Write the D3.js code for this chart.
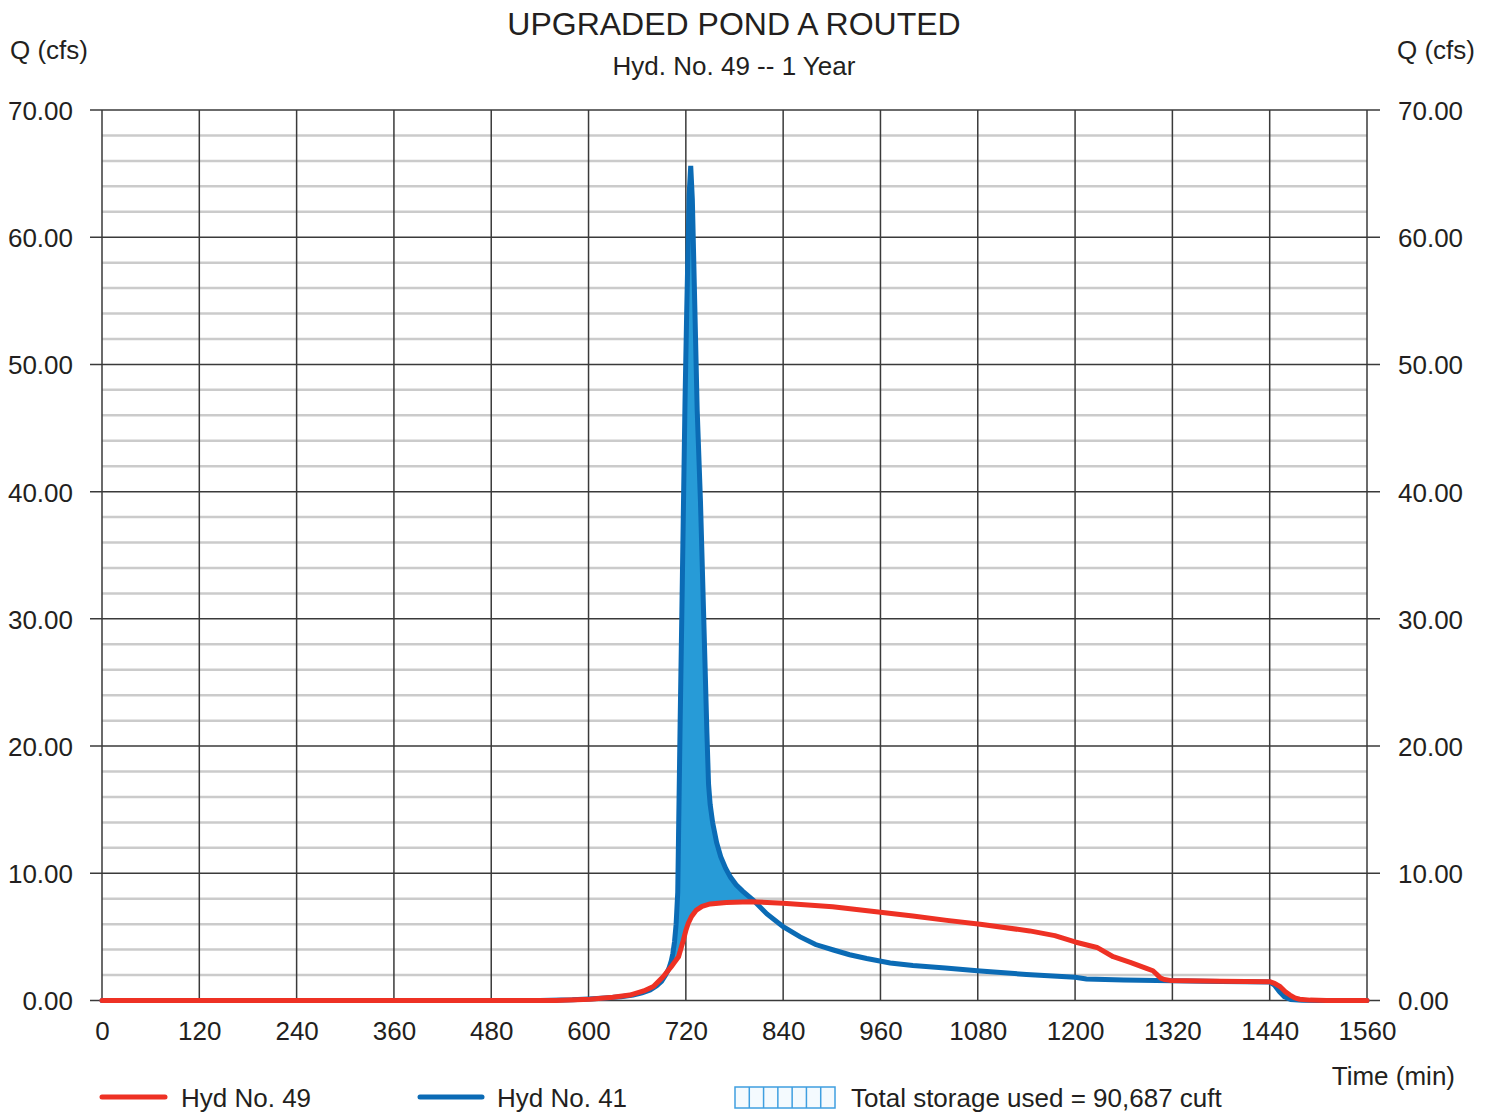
<!DOCTYPE html>
<html>
<head>
<meta charset="utf-8">
<script src="https://cdn.jsdelivr.net/npm/d3@7"></script>
<style>
  html, body { margin: 0; padding: 0; background: #fff; }
  svg { display: block; font-family: "Liberation Sans", Arial, sans-serif; }
</style>
</head>
<body>
<svg id="chart" width="1494" height="1112"></svg>
<script>
// Routed hydrograph: inflow (Hyd No. 41) and pond outflow (Hyd No. 49)
const titleText = "UPGRADED POND A ROUTED";
const subtitleText = "Hyd. No. 49 -- 1 Year";

const timeTicks = [0, 120, 240, 360, 480, 600, 720, 840, 960, 1080, 1200, 1320, 1440, 1560];
const flowTicks = [0, 10, 20, 30, 40, 50, 60, 70];

// Hyd No. 41 (inflow), time in minutes and Q in cfs
const inflowTime = [0, 540, 580, 600, 620, 640, 655, 666, 676, 684, 690, 695, 699, 702, 704, 706, 708, 710, 711, 713, 715, 717, 719, 721, 723, 724, 726, 728, 731, 734, 738, 742, 746, 748, 750, 753, 758, 763, 769, 775, 782, 790, 803, 820, 840, 861, 880, 902, 922, 943, 972, 1000, 1040, 1083, 1140, 1200, 1214, 1260, 1320, 1380, 1440, 1446, 1452, 1458, 1466, 1480, 1500, 1560];
const inflowQ    = [0, 0, 0.05, 0.12, 0.2, 0.3, 0.43, 0.6, 0.83, 1.15, 1.5, 2.0, 2.5, 3.1, 3.7, 4.6, 6.0, 8.5, 13.0, 22.0, 30.2, 38.7, 47.2, 54.0, 60.0, 63.3, 65.6, 63.0, 54.7, 46.4, 39.3, 30.2, 21.0, 17.0, 15.4, 14.0, 12.4, 11.3, 10.4, 9.7, 9.1, 8.6, 7.9, 6.8, 5.8, 5.0, 4.4, 3.97, 3.6, 3.3, 2.95, 2.75, 2.55, 2.32, 2.05, 1.82, 1.69, 1.62, 1.55, 1.5, 1.45, 1.2, 0.7, 0.3, 0.08, 0.02, 0, 0];

// Hyd No. 49 (routed outflow)
const outflowTime = [0, 560, 602, 630, 651, 668, 680, 692, 702, 706, 711, 717, 720, 723, 727, 733, 740, 750, 770, 800, 840, 901, 960, 1000, 1042, 1083, 1144, 1175, 1200, 1227, 1247, 1268, 1288, 1296, 1300, 1305, 1310, 1317, 1380, 1440, 1446, 1453, 1459, 1465, 1471, 1477, 1490, 1510, 1560];
const outflowQ    = [0, 0, 0.1, 0.25, 0.43, 0.75, 1.1, 1.87, 2.66, 3.0, 3.44, 4.76, 5.5, 6.07, 6.6, 7.11, 7.4, 7.59, 7.7, 7.77, 7.64, 7.37, 6.94, 6.65, 6.3, 5.99, 5.47, 5.1, 4.6, 4.17, 3.44, 3.0, 2.53, 2.34, 2.1, 1.78, 1.65, 1.58, 1.52, 1.48, 1.35, 1.08, 0.7, 0.43, 0.2, 0.1, 0.03, 0, 0];

const legendLabels = ["Hyd No. 49", "Hyd No. 41", "Total storage used = 90,687 cuft"];

const RED = "#ee3124", BLUE = "#0b6bb5", FILL = "#279bd7";

const svg = d3.select("#chart");
const x = d3.scaleLinear().domain([0, 1560]).range([102, 1367]);
const y = d3.scaleLinear().domain([0, 70]).range([1000.5, 110]);

// grid: light minor lines every 2 cfs, dark lines every 10 cfs and 120 min
const grid = svg.append("g");
const minor = d3.range(2, 70, 2).filter(v => v % 10 !== 0);
grid.selectAll(".minor").data(minor).join("line")
  .attr("x1", x(0)).attr("x2", x(1560))
  .attr("y1", d => y(d)).attr("y2", d => y(d))
  .attr("stroke", "#cbcbcb").attr("stroke-width", 2.5);
grid.selectAll(".major").data(flowTicks).join("line")
  .attr("x1", x(0) - 12).attr("x2", x(1560) + 13)
  .attr("y1", d => y(d)).attr("y2", d => y(d))
  .attr("stroke", "#3a3a3a").attr("stroke-width", 1.5);
grid.selectAll(".vert").data(timeTicks).join("line")
  .attr("x1", d => x(d)).attr("x2", d => x(d))
  .attr("y1", y(70)).attr("y2", y(0))
  .attr("stroke", "#3a3a3a").attr("stroke-width", 1.5);

// axes (labels only; grid above carries the lines)
const fmt = d3.format(".2f");
const axL = svg.append("g").attr("transform", `translate(${x(0) - 12},0)`)
  .call(d3.axisLeft(y).tickValues(flowTicks).tickFormat(fmt).tickSize(0).tickPadding(17));
const axR = svg.append("g").attr("transform", `translate(${x(1560) + 13},0)`)
  .call(d3.axisRight(y).tickValues(flowTicks).tickFormat(fmt).tickSize(0).tickPadding(18));
const axB = svg.append("g").attr("transform", `translate(0,${y(0)})`)
  .call(d3.axisBottom(x).tickValues(timeTicks).tickFormat(d3.format("d")).tickSize(0).tickPadding(21));
[axL, axR, axB].forEach(g => {
  g.select(".domain").remove();
  g.selectAll("text").attr("font-family", "Liberation Sans, Arial, sans-serif")
    .attr("font-size", 26).attr("fill", "#231f20");
});
axL.selectAll("text").attr("dy", "0.36em");
axR.selectAll("text").attr("dy", "0.36em");

// storage: area between inflow and outflow where inflow exceeds outflow
const interp = (ts, qs) => t => {
  const i = d3.bisectRight(ts, t);
  if (i <= 0) return qs[0];
  if (i >= ts.length) return qs[qs.length - 1];
  const t0 = ts[i - 1], t1 = ts[i];
  return qs[i - 1] + (qs[i] - qs[i - 1]) * (t - t0) / (t1 - t0);
};
const qIn = interp(inflowTime, inflowQ), qOut = interp(outflowTime, outflowQ);
const allT = Array.from(new Set([...inflowTime, ...outflowTime, ...d3.range(680, 820, 0.5)]))
  .filter(t => t >= 680 && t <= 820).sort((a, b) => a - b);
const storage = allT.map(t => ({ t, lo: qOut(t), hi: Math.max(qIn(t), qOut(t)) }));
svg.append("path").datum(storage)
  .attr("fill", FILL)
  .attr("d", d3.area().x(d => x(d.t)).y0(d => y(d.lo)).y1(d => y(d.hi)));

// hydrograph lines
const inflow = inflowTime.map((t, i) => [t, inflowQ[i]]);
const outflow = outflowTime.map((t, i) => [t, outflowQ[i]]);
const line = d3.line().x(d => x(d[0])).y(d => y(d[1]));
svg.append("path").datum(inflow).attr("d", line)
  .attr("fill", "none").attr("stroke", BLUE).attr("stroke-width", 5)
  .attr("stroke-linejoin", "miter").attr("stroke-miterlimit", 4).attr("stroke-linecap", "round");
svg.append("path").datum(outflow).attr("d", line)
  .attr("fill", "none").attr("stroke", RED).attr("stroke-width", 5)
  .attr("stroke-linejoin", "round").attr("stroke-linecap", "round");

// titles
const txt = (s, xx, yy, size, anchor) => svg.append("text").text(s)
  .attr("x", xx).attr("y", yy).attr("font-size", size)
  .attr("text-anchor", anchor || "start").attr("fill", "#231f20");
txt(titleText, 734, 35, 32, "middle");
txt(subtitleText, 734, 75, 26, "middle");
txt("Q (cfs)", 10, 59, 26);
txt("Q (cfs)", 1397, 59, 26);
txt("Time (min)", 1455, 1085, 26, "end");

// legend
const lg = svg.append("g");
lg.append("line").attr("x1", 102).attr("x2", 165).attr("y1", 1097).attr("y2", 1097)
  .attr("stroke", RED).attr("stroke-width", 5).attr("stroke-linecap", "round");
txt(legendLabels[0], 181, 1107, 26);
lg.append("line").attr("x1", 420).attr("x2", 482).attr("y1", 1097).attr("y2", 1097)
  .attr("stroke", BLUE).attr("stroke-width", 5).attr("stroke-linecap", "round");
txt(legendLabels[1], 497, 1107, 26);
const bx = 735, bw = 100, by = 1087, bh = 21;
lg.append("rect").attr("x", bx).attr("y", by).attr("width", bw).attr("height", bh)
  .attr("fill", "#f4fafe").attr("stroke", "#3f9fe0").attr("stroke-width", 1.5);
lg.selectAll(".cell").data(d3.range(1, 7)).join("line")
  .attr("x1", d => bx + d * bw / 7).attr("x2", d => bx + d * bw / 7)
  .attr("y1", by).attr("y2", by + bh)
  .attr("stroke", "#3f9fe0").attr("stroke-width", 1.5);
txt(legendLabels[2], 851, 1107, 26);
</script>
</body>
</html>
